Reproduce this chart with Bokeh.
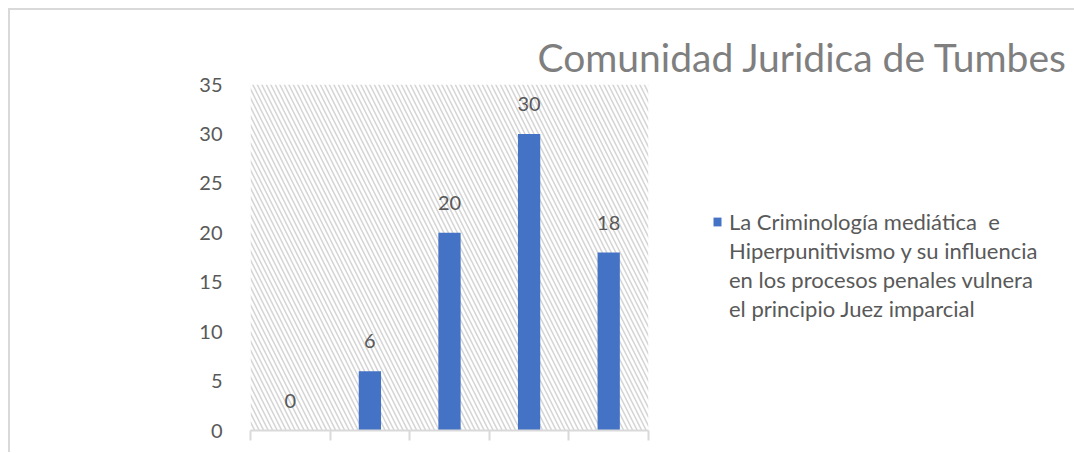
from bokeh.plotting import figure
from bokeh.models import (ColumnDataSource, LabelSet, BoxAnnotation,
                          Title, Legend, LegendItem, FixedTicker, Range1d)
from bokeh.core.properties import value
from bokeh.embed import file_html
from bokeh.resources import INLINE

# ---- data ----
categories = ["1", "2", "3", "4", "5"]
values = [0, 6, 20, 30, 18]
y_ticks = [0, 5, 10, 15, 20, 25, 30, 35]
title_text = "Comunidad Juridica de Tumbes"
legend_lines = ["La Criminología mediática  e",
                "Hiperpunitivismo y su influencia",
                "en los procesos penales vulnera",
                "el principio Juez imparcial"]

FONT = "Lato"
GRAY = "#595959"
BLUE = "#4472C4"

n = len(categories)
xpos = [i + 0.5 for i in range(n)]          # category slot centres
src = ColumnDataSource(dict(x=xpos, cat=categories, val=values,
                            lab=[str(v) for v in values]))

p = figure(x_range=Range1d(0, n), y_range=Range1d(0, 35),
           frame_width=398, frame_height=346,
           min_border_left=240, min_border_right=422,
           min_border_top=74, min_border_bottom=22,
           output_backend="svg", toolbar_location=None,
           background_fill_color="white", border_fill_color="white",
           styles={"border-left": "2px solid #d9d9d9",
                   "border-top": "2px solid #d9d9d9",
                   "border-right": "2px solid #d9d9d9",
                   "margin": "8px 0 0 8px"})
p.outline_line_color = None
p.grid.visible = False

# hatched plot-area background
p.add_layout(BoxAnnotation(fill_alpha=0, line_alpha=0,
                           hatch_pattern="\\", hatch_color="#d6d6d6",
                           hatch_scale=9, hatch_weight=1.6,
                           level="underlay"))

r = p.vbar(x="x", top="val", width=0.28, source=src,
           fill_color=BLUE, line_color=None)

p.add_layout(LabelSet(x="x", y="val", text="lab", source=src,
                      text_align="center", text_baseline="middle",
                      y_offset=30, text_color=GRAY,
                      text_font=value(FONT), text_font_size="20px"))

# y axis
p.yaxis.ticker = FixedTicker(ticks=y_ticks)
p.yaxis.axis_line_color = None
p.yaxis.major_tick_line_color = None
p.yaxis.minor_tick_line_color = None
p.yaxis.major_label_standoff = 22
p.yaxis.major_label_text_color = GRAY
p.yaxis.major_label_text_font = FONT
p.yaxis.major_label_text_font_size = "20px"

# x axis: ticks on category boundaries, no labels
p.xaxis.ticker = FixedTicker(ticks=list(range(n + 1)))
p.xaxis.axis_line_color = "#d9d9d9"
p.xaxis.axis_line_width = 2
p.xaxis.major_tick_line_color = "#d9d9d9"
p.xaxis.major_tick_line_width = 2
p.xaxis.major_tick_out = 10
p.xaxis.major_tick_in = 0
p.xaxis.minor_tick_line_color = None
p.xaxis.major_label_overrides = {i: "" for i in range(n + 1)}
p.xaxis.major_label_text_font_size = "1px"
p.xaxis.major_label_standoff = 0

# title
t = Title(text=title_text, align="left", offset=287,
          text_color="#7f7f7f", text_font=FONT,
          text_font_size="39px", text_font_style="normal")
p.add_layout(t, "above")

# legend (first line carries the series swatch)
blank = p.vbar(x=[], top=[], width=0.28, fill_alpha=0, line_alpha=0)
items = [LegendItem(label=legend_lines[0], renderers=[r])]
items += [LegendItem(label=s, renderers=[blank]) for s in legend_lines[1:]]
legend = Legend(items=items,
                border_line_color=None, background_fill_alpha=0,
                label_text_color=GRAY, label_text_font=FONT,
                label_text_font_size="22px", glyph_width=10, glyph_height=11,
                label_height=26, spacing=2,
                label_standoff=7, margin=0, padding=0, location=(64, 108))
p.add_layout(legend, "right")

open("out.html", "w").write(file_html(p, INLINE))
